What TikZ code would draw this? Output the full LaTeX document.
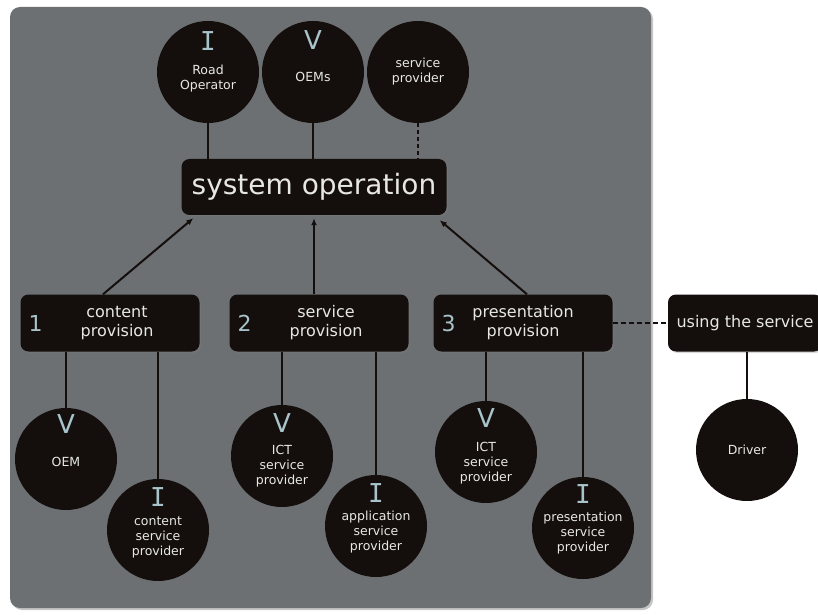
\documentclass[tikz,border=0pt]{standalone}
\usepackage{fontspec}
\setmainfont{DejaVu Sans}
\newfontfamily\slabfont{DejaVu Sans Mono}
\usetikzlibrary{arrows.meta,shadows}
\definecolor{panelgrey}{RGB}{108,112,115}
\definecolor{nodeblack}{RGB}{20,15,13}
\definecolor{roletext}{RGB}{168,196,202}
\definecolor{nodetext}{RGB}{232,232,226}

\begin{document}
\begin{tikzpicture}
  [x=1pt,y=1pt,
   actor/.style={circle,fill=nodeblack,minimum size=102pt,inner sep=0pt,align=center,
     text=nodetext,font=\fontsize{12.5}{15}\selectfont},
   phase/.style={rectangle,rounded corners=8pt,fill=nodeblack,minimum width=179pt,
     minimum height=57pt,align=center,text=nodetext,font=\fontsize{16}{19}\selectfont,
     drop shadow={opacity=.3,shadow xshift=1.5pt,shadow yshift=-1.5pt}},
   role/.style={text=roletext,font=\fontsize{26}{26}\selectfont,inner sep=0pt},
   num/.style={text=roletext,font=\fontsize{22}{22}\selectfont,inner sep=0pt},
   link/.style={draw=nodeblack,line width=2pt},
   arr/.style={link,-{Latex[length=7pt,width=6pt]}}]
  \useasboundingbox (0,0) rectangle (818,614);
  \fill[panelgrey,rounded corners=10pt,drop shadow={opacity=.45,shadow xshift=2pt,shadow yshift=-2pt}]
    (10,6) rectangle (651,607);

  \node[actor,label={[role,anchor=north,yshift=-11pt]north:{\slabfont I}}] (ro) at (208,542) {\\[8pt]Road\\Operator};
  \node[actor,label={[role,anchor=north,yshift=-10pt]north:V}] (oems) at (313,542) {\\[4pt]OEMs};
  \node[actor] (sp) at (418,542) {service\\provider};

  \node[phase,minimum width=265pt,minimum height=56pt,font=\fontsize{28}{28}\selectfont] (sysop) at (314,427) {system operation};

  \node[phase,label={[num,anchor=west,xshift=8pt]west:1}] (cp) at (110,291) {\hspace{14pt}content\\\hspace{14pt}provision};
  \node[phase,label={[num,anchor=west,xshift=8pt]west:2}] (sv) at (319,291) {\hspace{14pt}service\\\hspace{14pt}provision};
  \node[phase,label={[num,anchor=west,xshift=8pt]west:3}] (pp) at (523,291) {presentation\\provision};
  \node[phase,minimum width=154pt] (us) at (745,291) {using the service};

  \node[actor,label={[role,anchor=north,yshift=-7pt]north:V}] (oem) at (66,155) {\\OEM};
  \node[actor,label={[role,anchor=north,yshift=-9pt]north:{\slabfont I}}] (csp) at (158,84) {\\[8pt]content\\service\\provider};
  \node[actor,label={[role,anchor=north,yshift=-9pt]north:V}] (ict2) at (282,158) {\\[15pt]ICT\\service\\provider};
  \node[actor,label={[role,anchor=north,yshift=-9pt]north:{\slabfont I}}] (asp) at (376,88) {\\[6pt]application\\service\\provider};
  \node[actor,label={[role,anchor=north,yshift=-8pt]north:V}] (ict3) at (486,162) {\\[17pt]ICT\\service\\provider};
  \node[actor,label={[role,anchor=north,yshift=-8pt]north:{\slabfont I}}] (psp) at (583,86) {\\[5pt]presentation\\service\\provider};
  \node[actor] (drv) at (747,164) {Driver};

  \foreach \top in {ro,oems}
    \draw[link] (\top.south) -- (\top.south |- sysop.north);
  \draw[link,dash pattern=on 4pt off 3pt] (sp.south) -- (sp.south |- sysop.north);

  \draw[arr] ([xshift=-7pt]cp.north) -- ([xshift=12pt,yshift=-3pt]sysop.south west);
  \draw[arr] (sv.north -| sysop.south) -- ([yshift=-3pt]sysop.south);
  \draw[arr] ([xshift=4pt]pp.north) -- ([xshift=-7pt,yshift=-5pt]sysop.south east);

  \foreach \from/\to in {cp/oem,cp/csp,sv/ict2,sv/asp,pp/ict3,pp/psp,us/drv}
    \draw[link] (\to.north) -- (\to.north |- \from.south);
  \draw[link,dash pattern=on 5pt off 3pt] (pp.east) -- (us.west);

\end{tikzpicture}
\end{document}
